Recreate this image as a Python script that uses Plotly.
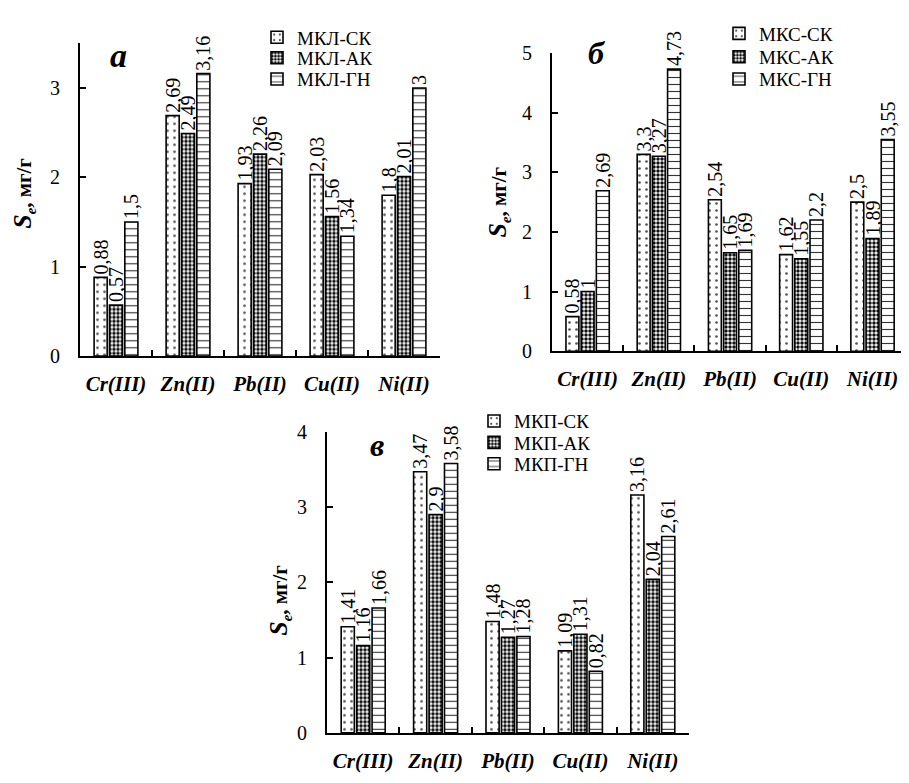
import plotly.graph_objects as go

categories = ["Cr(III)", "Zn(II)", "Pb(II)", "Cu(II)", "Ni(II)"]

a_names = ["МКЛ-СК", "МКЛ-АК", "МКЛ-ГН"]
a_sk = [0.88, 2.69, 1.93, 2.03, 1.8]
a_ak = [0.57, 2.49, 2.26, 1.56, 2.01]
a_gn = [1.5, 3.16, 2.09, 1.34, 3.0]

b_names = ["МКС-СК", "МКС-АК", "МКС-ГН"]
b_sk = [0.58, 3.3, 2.54, 1.62, 2.5]
b_ak = [1.0, 3.27, 1.65, 1.55, 1.89]
b_gn = [2.69, 4.73, 1.69, 2.2, 3.55]

c_names = ["МКП-СК", "МКП-АК", "МКП-ГН"]
c_sk = [1.41, 3.47, 1.48, 1.09, 3.16]
c_ak = [1.16, 2.9, 1.27, 1.31, 2.04]
c_gn = [1.66, 3.58, 1.28, 0.82, 2.61]

panel_letters = ["а", "б", "в"]
y_title = "<b><i><span style='font-size:26px'>S</span></i><sub><i>e</i></sub>, мг/г</b>"

FONT = "Liberation Serif, Times New Roman, serif"
OFF = 8  # page body margin
W, H = 909 - 2 * OFF, 783 - 2 * OFF

patterns = [
    dict(shape=".", fgcolor="#555555", bgcolor="white", size=7, solidity=0.12, fillmode="replace"),
    dict(shape=".", fgcolor="#111111", bgcolor="white", size=4, solidity=0.6, fillmode="replace"),
    dict(shape="-", fgcolor="#333333", bgcolor="white", size=7, solidity=0.16, fillmode="replace"),
]


def fmt(v):
    return f"{v:g}".replace(".", ",")


def sx(p):
    return (p - OFF) / W


def sy(p):
    return 1 - (p - OFF) / H


fig = go.Figure()

# (names, series, x axis, y axis, legend left x, legend row centres) in screen px
panels = [
    (a_names, [a_sk, a_ak, a_gn], "x", "y", 257, [27, 48, 70]),
    (b_names, [b_sk, b_ak, b_gn], "x2", "y2", 719, [23, 47, 70]),
    (c_names, [c_sk, c_ak, c_gn], "x3", "y3", 474, [422, 444, 466]),
]

legend_common = dict(font=dict(family=FONT, size=19, color="black"), bgcolor="rgba(0,0,0,0)",
                     itemwidth=30, xanchor="left", yanchor="middle", borderwidth=0)
legend_layout = {}
k = 0
for names, series, xa, ya, lx, rows in panels:
    for name, vals, pat, ry in zip(names, series, patterns, rows):
        k += 1
        lg = "legend" if k == 1 else f"legend{k}"
        legend_layout[lg] = dict(legend_common, x=sx(lx), y=sy(ry))
        fig.add_trace(go.Bar(
            x=categories, y=vals, name=name,
            xaxis=xa, yaxis=ya, legend=lg,
            marker=dict(color="white", line=dict(color="black", width=1.6), pattern=pat),
            text=[fmt(v) for v in vals], textposition="outside", textangle=-90,
            textfont=dict(family=FONT, size=20, color="black"),
            constraintext="none", cliponaxis=False,
        ))

axis_common = dict(
    showline=True, linecolor="black", linewidth=2, ticks="inside", ticklen=6,
    tickwidth=2, tickcolor="black", showgrid=False, zeroline=False,
)
xcommon = dict(axis_common, type="category", tickson="boundaries", tickangle=0,
               tickfont=dict(family=FONT, size=21, color="black", weight="bold", style="italic"),
               ticklabelstandoff=8)
ycommon = dict(axis_common, tickfont=dict(family=FONT, size=20, color="black"),
               ticklabelstandoff=14)

fig.update_layout(
    width=W, height=H, margin=dict(l=0, r=0, t=0, b=0),
    paper_bgcolor="white", plot_bgcolor="white",
    font=dict(family=FONT, color="black"),
    barmode="group", bargap=0.36, bargroupgap=0.15,
    showlegend=True,
    xaxis=dict(xcommon, domain=[sx(80), sx(440)], range=[-0.5, 4.5], anchor="y"),
    yaxis=dict(ycommon, domain=[sy(355), sy(33)], range=[0, 3.5], dtick=1, anchor="x"),
    xaxis2=dict(xcommon, domain=[sx(552), 1.0], range=[-0.5, 4.4], anchor="y2"),
    yaxis2=dict(ycommon, domain=[sy(350), sy(43)], range=[0, 5], dtick=1, anchor="x2"),
    xaxis3=dict(xcommon, domain=[sx(327), sx(689)], range=[-0.5, 4.5], anchor="y3"),
    yaxis3=dict(ycommon, domain=[sy(743), sy(433)], range=[0, 4], dtick=1, anchor="x3"),
    **legend_layout,
)

letters_pos = [(118, 46, 34), (597, 43, 32), (377, 447, 32)]
for letter, (lx, ly, fs) in zip(panel_letters, letters_pos):
    fig.add_annotation(x=sx(lx), y=sy(ly), xref="paper", yref="paper", text=f"<b><i>{letter}</i></b>",
                       xanchor="center", yanchor="middle",
                       showarrow=False, font=dict(family=FONT, size=fs, color="black"))

titles_pos = [(23, 188), (498, 197), (279, 607)]
for tx, ty in titles_pos:
    fig.add_annotation(x=sx(tx), y=sy(ty), xref="paper", yref="paper", text=y_title,
                       xanchor="center", yanchor="middle",
                       textangle=-90, showarrow=False, font=dict(family=FONT, size=21, color="black"))

fig.write_html("out.html")
